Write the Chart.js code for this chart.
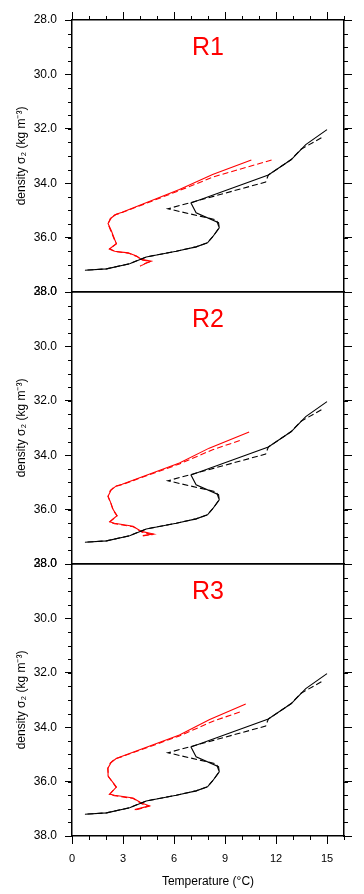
<!DOCTYPE html>
<html lang="en">
<head>
  <meta charset="UTF-8" />
  <title>Temperature vs density, R1-R3</title>
  <script src="https://cdn.jsdelivr.net/npm/chart.js"></script>
  <style>
    * { box-sizing: border-box; margin: 0; padding: 0; }
    body { background: #fff; }
    #wrap { position: relative; width: 364px; height: 894px; }
    #wrap canvas { position: absolute; left: 0; top: 0; }
  </style>
</head>
<body>
  <div id="wrap">
    <canvas id="p1" width="364" height="894"></canvas>
    <canvas id="p2" width="364" height="894"></canvas>
    <canvas id="p3" width="364" height="894"></canvas>
  </div>

  <script>
    // tick labels
    const xTicks = [0, 3, 6, 9, 12, 15];
    const yTicks = [28, 30, 32, 34, 36, 38];
    const panelNames = ['R1', 'R2', 'R3'];

    // black profiles (same in every panel): temperature / density
    const blackSolidT = [15.0, 13.75, 12.9, 11.55, 7.0, 7.3, 8.62, 8.66, 8.3, 7.97, 7.3, 6.13, 4.37, 3.39, 2.03, 0.76];
    const blackSolidD = [32.03, 32.58, 33.13, 33.7, 34.73, 35.09, 35.45, 35.64, 35.95, 36.19, 36.34, 36.5, 36.71, 36.96, 37.15, 37.2];
    const blackDashT = [14.67, 13.45, 12.9, 11.55, 11.39, 5.64, 8.5, 8.66, 8.3, 7.97, 7.3, 6.13, 4.37, 3.39, 2.03, 0.76];
    const blackDashD = [32.33, 32.76, 33.13, 33.7, 33.96, 34.94, 35.35, 35.64, 35.95, 36.19, 36.34, 36.5, 36.71, 36.96, 37.15, 37.2];

    // red profiles, R1
    const r1SolidT = [10.55, 8.27, 6.32, 2.95, 2.6, 2.32, 2.12, 2.32, 2.51, 2.61, 2.22, 2.51, 3.3, 3.79, 4.08, 4.66, 4.37, 4.08];
    const r1SolidD = [33.15, 33.68, 34.23, 35.07, 35.14, 35.27, 35.48, 35.76, 36.07, 36.22, 36.41, 36.5, 36.56, 36.68, 36.8, 36.87, 36.93, 37.03];
    const r1DashT = [11.74, 8.4, 6.32, 2.95, 2.5, 2.25, 2.12, 2.3, 2.5, 2.61, 2.2, 2.5, 3.3, 3.85, 4.1, 4.6, 4.3, 4.0];
    const r1DashD = [33.15, 33.75, 34.27, 35.08, 35.17, 35.3, 35.5, 35.78, 36.08, 36.23, 36.42, 36.51, 36.57, 36.7, 36.82, 36.88, 36.95, 37.05];

    // red profiles, R2
    const r2SolidT = [10.42, 8.07, 6.32, 2.95, 2.6, 2.3, 2.12, 2.3, 2.42, 2.65, 2.22, 2.5, 3.59, 4.08, 4.8, 4.17];
    const r2SolidD = [33.15, 33.74, 34.29, 35.07, 35.13, 35.28, 35.51, 35.78, 36.0, 36.22, 36.45, 36.5, 36.61, 36.8, 36.9, 36.95];
    const r2DashT = [9.87, 8.27, 6.32, 2.95, 2.5, 2.25, 2.12, 2.3, 2.42, 2.65, 2.2, 2.5, 3.6, 4.1, 4.7, 4.1];
    const r2DashD = [33.46, 33.8, 34.32, 35.08, 35.16, 35.3, 35.52, 35.8, 36.02, 36.23, 36.46, 36.52, 36.63, 36.82, 36.92, 36.97];

    // red profiles, R3
    const r3SolidT = [10.22, 8.1, 6.32, 2.95, 2.6, 2.3, 2.12, 2.12, 2.61, 2.22, 2.5, 3.59, 4.08, 4.56, 3.69];
    const r3SolidD = [33.15, 33.72, 34.29, 35.07, 35.15, 35.3, 35.5, 35.8, 36.2, 36.46, 36.5, 36.6, 36.79, 36.89, 37.03];
    const r3DashT = [9.87, 8.3, 6.32, 2.95, 2.5, 2.25, 2.1, 2.15, 2.6, 2.2, 2.5, 3.6, 4.1, 4.5, 3.75];
    const r3DashD = [33.44, 33.78, 34.32, 35.08, 35.17, 35.32, 35.52, 35.82, 36.21, 36.47, 36.52, 36.62, 36.81, 36.91, 37.04];

    const redSolid = [[r1SolidT, r1SolidD], [r2SolidT, r2SolidD], [r3SolidT, r3SolidD]];
    const redDash = [[r1DashT, r1DashD], [r2DashT, r2DashD], [r3DashT, r3DashD]];

    // chart-area top/bottom of each panel (px)
    const panelTop = [20, 292, 564];
    const panelBottom = [292, 564, 836];

    Chart.defaults.font.family = "'Liberation Sans', Arial, sans-serif";
    Chart.defaults.color = '#000';

    const pts = (t, d) => t.map((v, i) => ({ x: v, y: d[i] }));

    // short minor ticks that Chart.js has no option for
    const minorTicks = {
      id: 'minorTicks',
      afterDraw(chart, args, opts) {
        const ctx = chart.ctx;
        ctx.save();
        ctx.strokeStyle = '#000';
        ctx.lineWidth = 1;
        (opts.list || []).forEach(m => {
          const s = chart.scales[m.id];
          for (let v = s.min; v <= s.max + 1e-6; v += m.step) {
            const p = Math.round(s.getPixelForValue(v)) + 0.5;
            ctx.beginPath();
            if (m.id === 'y') { ctx.moveTo(s.right, p); ctx.lineTo(s.right - 4, p); }
            else if (m.id === 'yr') { ctx.moveTo(s.left, p); ctx.lineTo(s.left + 4, p); }
            else if (m.id === 'xt') { ctx.moveTo(p, s.bottom); ctx.lineTo(p, s.bottom - 4); }
            else { ctx.moveTo(p, s.top); ctx.lineTo(p, s.top + 4); }
            ctx.stroke();
          }
        });
        ctx.restore();
      }
    };

    // big red panel name
    const panelLabel = {
      id: 'panelLabel',
      afterDraw(chart, args, opts) {
        const a = chart.chartArea;
        const ctx = chart.ctx;
        ctx.save();
        ctx.fillStyle = '#ff0000';
        ctx.font = "25px 'Liberation Sans', Arial, sans-serif";
        ctx.textAlign = 'center';
        ctx.textBaseline = 'middle';
        ctx.fillText(opts.text, (a.left + a.right) / 2, a.top + 28);
        ctx.restore();
      }
    };

    function makePanel(i) {
      const first = i === 0;
      const last = i === 2;
      const border = { display: true, color: '#000', width: 1.5 };
      const yTickList = s => { s.ticks = yTicks.map(v => ({ value: v })); };
      const xTickList = s => { s.ticks = xTicks.map(v => ({ value: v })); };

      const minorList = [{ id: 'y', step: 0.5 }, { id: 'yr', step: 0.5 }];
      if (first) minorList.push({ id: 'xt', step: 1 });
      if (last) minorList.push({ id: 'x', step: 1 });

      new Chart(document.getElementById('p' + (i + 1)), {
        type: 'scatter',
        data: {
          datasets: [
            { data: pts(blackSolidT, blackSolidD), borderColor: '#000', borderWidth: 1.1 },
            { data: pts(blackDashT, blackDashD), borderColor: '#000', borderWidth: 1.1, borderDash: [6, 3] },
            { data: pts(redSolid[i][0], redSolid[i][1]), borderColor: '#ff0000', borderWidth: 1.1 },
            { data: pts(redDash[i][0], redDash[i][1]), borderColor: '#ff0000', borderWidth: 1.1, borderDash: [6, 3] }
          ].map(d => Object.assign(d, { showLine: true, pointRadius: 0, tension: 0, fill: false }))
        },
        options: {
          responsive: false,
          animation: false,
          events: [],
          layout: {
            padding: {
              left: 0,
              right: 0,
              top: first ? 0 : panelTop[i],
              bottom: last ? 0 : 894 - panelBottom[i]
            }
          },
          plugins: {
            legend: { display: false },
            tooltip: { enabled: false },
            minorTicks: { list: minorList },
            panelLabel: { text: panelNames[i] }
          },
          scales: {
            x: {
              type: 'linear', position: 'bottom', min: 0, max: 16,
              afterBuildTicks: xTickList,
              ticks: { display: last, padding: 8, font: { size: 11 } },
              grid: { drawOnChartArea: false, drawTicks: last, tickLength: 8, tickColor: '#000' },
              border: border,
              title: { display: last, text: 'Temperature (°C)', font: { size: 12 }, padding: { top: 0, bottom: 5 } },
              afterFit: s => { s.height = last ? 58 : 0; }
            },
            xt: {
              type: 'linear', position: 'top', min: 0, max: 16,
              afterBuildTicks: xTickList,
              ticks: { display: false },
              grid: { drawOnChartArea: false, drawTicks: first, tickLength: 8, tickColor: '#000' },
              border: border,
              afterFit: s => { s.height = first ? 20 : 0; }
            },
            y: {
              type: 'linear', position: 'left', min: 28, max: 38, reverse: true,
              afterBuildTicks: yTickList,
              ticks: { padding: 8, font: { size: 12 }, callback: v => v.toFixed(1) },
              grid: { drawOnChartArea: false, tickLength: 7, tickColor: '#000' },
              border: border,
              title: { display: true, text: 'density σ₂ (kg m⁻³)', font: { size: 12 }, padding: { top: 14, bottom: 0 } },
              afterFit: s => { s.width = 72; }
            },
            yr: {
              type: 'linear', position: 'right', min: 28, max: 38, reverse: true,
              afterBuildTicks: yTickList,
              ticks: { display: false },
              grid: { drawOnChartArea: false, tickLength: 8, tickColor: '#000' },
              border: border,
              afterFit: s => { s.width = 20; }
            }
          }
        },
        plugins: [minorTicks, panelLabel]
      });
    }

    [0, 1, 2].forEach(makePanel);
  </script>
</body>
</html>
